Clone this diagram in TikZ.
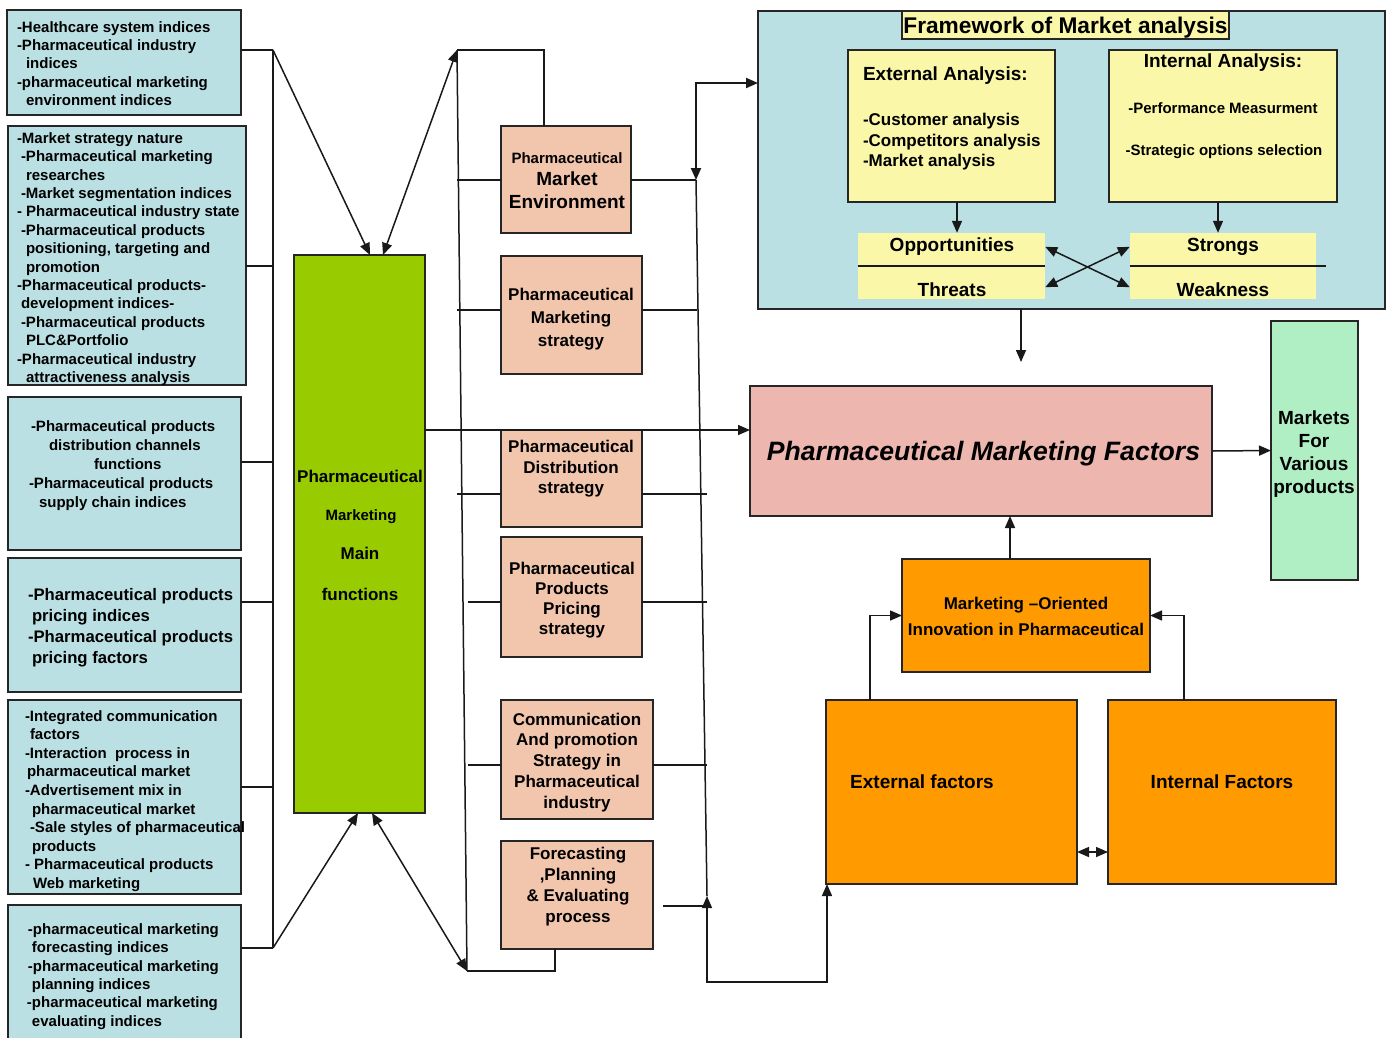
\documentclass[tikz,border=0pt]{standalone}
\usepackage{fontspec}
\setmainfont{Liberation Sans}
\usetikzlibrary{arrows.meta,calc}
\definecolor{lblue}{HTML}{BBE0E3}
\definecolor{salmon}{HTML}{F2C5AD}
\definecolor{lgreen}{HTML}{99CC00}
\definecolor{lyellow}{HTML}{FAF7A8}
\definecolor{pmfpink}{HTML}{EDB7AF}
\definecolor{mint}{HTML}{B0EEC4}
\definecolor{orng}{HTML}{FF9A00}
\newcommand\fsz[2]{\fontsize{#1}{#2}\selectfont\bfseries}
\newcommand\indnt[1]{\hspace*{#1pt}}
\begin{document}
\begin{tikzpicture}[x=1pt,y=-1pt,
  box/.style={draw=black!85, line width=1.6pt, inner sep=0, outer sep=0},
  lbox/.style={box, fill=lblue},
  sbox/.style={box, fill=salmon},
  obox/.style={box, fill=orng},
  ybox/.style={box, fill=lyellow},
  txt/.style={inner sep=0, outer sep=0},
  ln/.style={line width=1.5pt, draw=black!90},
  tip/.tip={Triangle[length=12pt,width=10pt]},
  arr/.style={ln, -tip},
  darr/.style={ln, tip-tip},
]
\useasboundingbox (0,0) rectangle (1388,1037);
\fill[white] (0,0) rectangle (1388,1037);

% ---------------- left column boxes ----------------
\node[lbox, minimum width=234, minimum height=105] (b1) at (124,62.5) {};
\node[lbox, minimum width=238, minimum height=259] (b2) at (127,255.5) {};
\node[lbox, minimum width=233, minimum height=153] (b3) at (124.5,473.5) {};
\node[lbox, minimum width=233, minimum height=134] (b4) at (124.5,625) {};
\node[lbox, minimum width=233, minimum height=194] (b5) at (124.5,797) {};
\node[lbox, minimum width=233, minimum height=140] (b6) at (124.5,975) {};

\node[txt, anchor=north west, align=left, font=\fsz{15}{18.3}] (t1) at (17,19.5)
 {\strut-Healthcare system indices\\-Pharmaceutical industry\\\indnt{9}indices\\-pharmaceutical marketing\\\indnt{9}environment indices};
\node[txt, anchor=north west, align=left, font=\fsz{15}{18.4}] (t2) at (17,130.4)
 {\strut-Market strategy nature\\\indnt{4}-Pharmaceutical marketing\\\indnt{9}researches\\\indnt{4}-Market segmentation indices\\- Pharmaceutical industry state\\\indnt{4}-Pharmaceutical products\\\indnt{9}positioning, targeting and\\\indnt{9}promotion\\-Pharmaceutical products-\\\indnt{4}development indices-\\\indnt{4}-Pharmaceutical products\\\indnt{9}PLC\&Portfolio\\-Pharmaceutical industry\\\indnt{9}attractiveness analysis};
\node[txt, anchor=north west, align=left, font=\fsz{15}{19}] (t3) at (29,418)
 {\strut\indnt{2}-Pharmaceutical products\\\indnt{20}distribution channels\\\indnt{65}functions\\-Pharmaceutical products\\\indnt{10}supply chain indices};
\node[txt, anchor=north west, align=left, font=\fsz{16.7}{20.7}] (t4) at (28,586.4)
 {\strut-Pharmaceutical products\\\indnt{4}pricing indices\\-Pharmaceutical products\\\indnt{4}pricing factors};
\node[txt, anchor=north west, align=left, font=\fsz{15}{18.55}] (t5) at (25,708.3)
 {\strut-Integrated communication\\\indnt{5}factors\\-Interaction\ \ process in\\\indnt{2}pharmaceutical market\\-Advertisement mix in\\\indnt{7}pharmaceutical market\\\indnt{5}-Sale styles of pharmaceutical\\\indnt{7}products\\- Pharmaceutical products\\\indnt{8}Web marketing};
\node[txt, anchor=north west, align=left, font=\fsz{15}{18.4}] (t6) at (27,921.4)
 {\strut\indnt{1}-pharmaceutical marketing\\\indnt{5}forecasting indices\\\indnt{1}-pharmaceutical marketing\\\indnt{5}planning indices\\-pharmaceutical marketing\\\indnt{5}evaluating indices};

% ---------------- green main box ----------------
\node[box, fill=lgreen, minimum width=131, minimum height=558] (g) at (359.5,534) {};
\node[txt, anchor=base, font=\fsz{17}{20}] (g1) at (360,482) {Pharmaceutical};
\node[txt, anchor=base, font=\fsz{15}{18}] (g2) at (361,520.3) {Marketing};
\node[txt, anchor=base, font=\fsz{17}{20}] (g3) at (360,559) {Main};
\node[txt, anchor=base, font=\fsz{17}{20}] (g4) at (360,600) {functions};

% ---------------- middle boxes ----------------
\node[sbox, minimum width=130, minimum height=107] (mA) at (566,179.5) {};
\node[sbox, minimum width=141, minimum height=118] (mB) at (571.5,315) {};
\node[sbox, minimum width=141, minimum height=97] (mC) at (571.5,478.5) {};
\node[sbox, minimum width=141, minimum height=120] (mD) at (571.5,597) {};
\node[sbox, minimum width=152, minimum height=119] (mE) at (577,759.5) {};
\node[sbox, minimum width=152, minimum height=108] (mF) at (577,895) {};

\node[txt, anchor=base, font=\fsz{15}{18}] (a1) at (567,163.3) {Pharmaceutical};
\node[txt, anchor=base, font=\fsz{19}{22}] (a2) at (567,185.7) {Market};
\node[txt, anchor=base, font=\fsz{19}{22}] (a3) at (567,208.7) {Environment};
\node[txt, anchor=north, align=center, font=\fsz{17}{23}] (tB) at (571,283.9)
 {\strut Pharmaceutical\\Marketing\\strategy};
\node[txt, anchor=north, align=center, font=\fsz{17}{20.5}] (tC) at (571,438.6)
 {\strut Pharmaceutical\\Distribution\\strategy};
\node[txt, anchor=north, align=center, font=\fsz{17}{20.3}] (tD) at (572,559.8)
 {\strut Pharmaceutical\\Products\\Pricing\\strategy};
\node[txt, anchor=north, align=center, font=\fsz{17}{20.75}] (tE) at (577,710.5)
 {\strut Communication\\And promotion\\Strategy in\\Pharmaceutical\\industry};
\node[txt, anchor=north, align=center, font=\fsz{17}{21}] (tF) at (578,844.3)
 {\strut Forecasting\\,Planning\\\& Evaluating\\process};

% ---------------- framework ----------------
\node[box, fill=lblue, minimum width=627, minimum height=298] (fw) at (1071.5,160) {};
\node[box, fill=lyellow, line width=1.2pt, minimum width=327, minimum height=28] (title) at (1065.5,25) {};
\node[txt, anchor=base, font=\fsz{22.7}{26}] (titletxt) at (1065.5,33) {Framework of Market analysis};
\node[ybox, minimum width=207, minimum height=152] (ext) at (951.5,126) {};
\node[ybox, minimum width=228, minimum height=152] (int) at (1223,126) {};
\node[txt, anchor=base west, font=\fsz{19}{22}] (extT) at (863,80.7) {External Analysis:};
\node[txt, anchor=north west, align=left, font=\fsz{17}{20.5}] (extL) at (863,111.6)
 {\strut-Customer analysis\\-Competitors analysis\\-Market analysis};
\node[txt, anchor=base, font=\fsz{19}{22}] (intT) at (1223,67.7) {Internal Analysis:};
\node[txt, anchor=base, font=\fsz{15}{18}] (intA) at (1223,113.3) {-Performance Measurment};
\node[txt, anchor=base, font=\fsz{15}{18}] (intB) at (1224,155.3) {-Strategic options selection};
\node[fill=lyellow, inner sep=0, minimum width=187, minimum height=66] (opp) at (951.5,266) {};
\node[fill=lyellow, inner sep=0, minimum width=186, minimum height=66] (str) at (1223,266) {};
\draw[ln, line width=1.2pt] (opp.west) -- (opp.east);
\draw[ln, line width=1.2pt] (str.west) -- ([xshift=10pt]str.east);
\node[txt, anchor=base, font=\fsz{19}{22}] (oppT) at (952,251.7) {Opportunities};
\node[txt, anchor=base, font=\fsz{19}{22}] (thrT) at (952,296.7) {Threats};
\node[txt, anchor=base, font=\fsz{19}{22}] (strT) at (1223,251.7) {Strongs};
\node[txt, anchor=base, font=\fsz{19}{22}] (weaT) at (1223,296.7) {Weakness};
\draw[arr] ([xshift=5.5pt]ext.south) -- ([xshift=5.5pt]opp.north);
\draw[arr] ([xshift=-5pt]int.south) -- ([xshift=-5pt]str.north);
\draw[darr] ($(opp.north east)+(0,14)$) -- ($(str.south west)+(0,-12)$);
\draw[darr] ($(opp.south east)+(0,-12)$) -- ($(str.north west)+(0,14)$);

% ---------------- right part ----------------
\node[box, fill=pmfpink, line width=1.2pt, minimum width=462, minimum height=130] (PMF) at (981,451) {};
\node[txt, anchor=base, font=\fsz{26.6}{30}\itshape] (PMFt) at (983.5,460.3) {Pharmaceutical Marketing Factors};
\node[box, fill=mint, line width=1.2pt, minimum width=87, minimum height=259] (mkts) at (1314.5,450.5) {};
\node[txt, anchor=north, align=center, font=\fsz{19}{23}] (mktsT) at (1314,408.6)
 {\strut Markets\\For\\Various\\products};
\node[obox, line width=1.2pt, minimum width=248, minimum height=113] (inno) at (1026,615.5) {};
\node[txt, anchor=north, align=center, font=\fsz{17}{26}] (innoT) at (1026,590.8)
 {\strut Marketing –Oriented\\Innovation in Pharmaceutical};
\node[obox, line width=1.2pt, minimum width=251, minimum height=184] (extf) at (951.5,792) {};
\node[obox, line width=1.2pt, minimum width=228, minimum height=184] (intf) at (1222,792) {};
\node[txt, anchor=base, font=\fsz{19}{22}] (extfT) at (922,788.7) {External factors};
\node[txt, anchor=base, font=\fsz{19}{22}] (intfT) at (1222,788.7) {Internal Factors};

% ---------------- coordinates ----------------
\coordinate (L1) at (273,50);
\coordinate (L2) at (273,266);
\coordinate (L3) at (273,462);
\coordinate (L4) at (273,602);
\coordinate (L5) at (273,787);
\coordinate (L6) at (273,948);
\coordinate (M1) at (457,50);
\coordinate (M6) at (467,971);
\coordinate (MA) at (457,180);
\coordinate (MB) at (457,310);
\coordinate (MC) at (457,494);
\coordinate (MD) at (468,602);
\coordinate (ME) at (468,765);
\coordinate (R0) at (696,83);
\coordinate (R1) at (696,180);
\coordinate (RB) at (697,310);
\coordinate (RC) at (707,494);
\coordinate (RD) at (707,602);
\coordinate (RE) at (707,765);
\coordinate (RF) at (707,906);
\coordinate (FF) at (663,906);
\coordinate (R7) at (707,896);
\coordinate (R8) at (707,982);
\coordinate (fwA) at (1021,362);

% ---------------- connectors ----------------
\draw[ln] (b1.east |- L1) -- (L1);
\draw[ln] (b2.east |- L2) -- (L2);
\draw[ln] (b3.east |- L3) -- (L3);
\draw[ln] (b4.east |- L4) -- (L4);
\draw[ln] (b5.east |- L5) -- (L5);
\draw[ln] (b6.east |- L6) -- (L6);
\draw[ln] (L1) -- (L6);
\draw[arr] (L1) -- ([xshift=10.5pt]g.north);
\draw[darr] ([xshift=23.5pt]g.north) -- (M1);
\draw[arr] (L6) -- ([xshift=-1.5pt]g.south);
\draw[darr] ([xshift=12.5pt]g.south) -- (M6);
\draw[ln] (M1) -| ([xshift=-22pt]mA.north);
\draw[ln] (M6) -| ([xshift=-22pt]mF.south);
\draw[ln] (M1) -- (M6);
\draw[ln] (MA) -- (mA.west |- MA);
\draw[ln] (MB) -- (mB.west |- MB);
\draw[ln] (MC) -- (mC.west |- MC);
\draw[ln] (MD) -- (mD.west |- MD);
\draw[ln] (ME) -- (mE.west |- ME);
\draw[ln] (mA.east |- R1) -- (R1);
\draw[ln] (mB.east |- RB) -- (RB);
\draw[ln] (mC.east |- RC) -- (RC);
\draw[ln] (mD.east |- RD) -- (RD);
\draw[ln] (mE.east |- RE) -- (RE);
\draw[ln] (FF) -- (RF);
\draw[ln] (R1) -- (R7);
\draw[darr, line width=2pt] (R1) -- (R0) -- (fw.west |- R0);
\draw[darr] (R7) -- (R8) -| ([xshift=1pt]extf.south west);
\draw[arr] (g.east |- mC.north) -- (PMF.west |- mC.north);
\draw[arr] ([xshift=-50.5pt]fw.south) -- (fwA);
\draw[arr] ([xshift=-16pt]inno.north) -- ([xshift=-16pt]inno.north |- PMF.south);
\draw[arr] (PMF.east) -- (mkts.west);
\draw[arr] ([xshift=44pt]extf.north west) |- (inno.west);
\draw[arr] ([xshift=76pt]intf.north west) |- (inno.east);
\draw[darr] ($(extf.south east)+(0,-32)$) -- ($(intf.south west)+(0,-32)$);
\end{tikzpicture}
\end{document}
